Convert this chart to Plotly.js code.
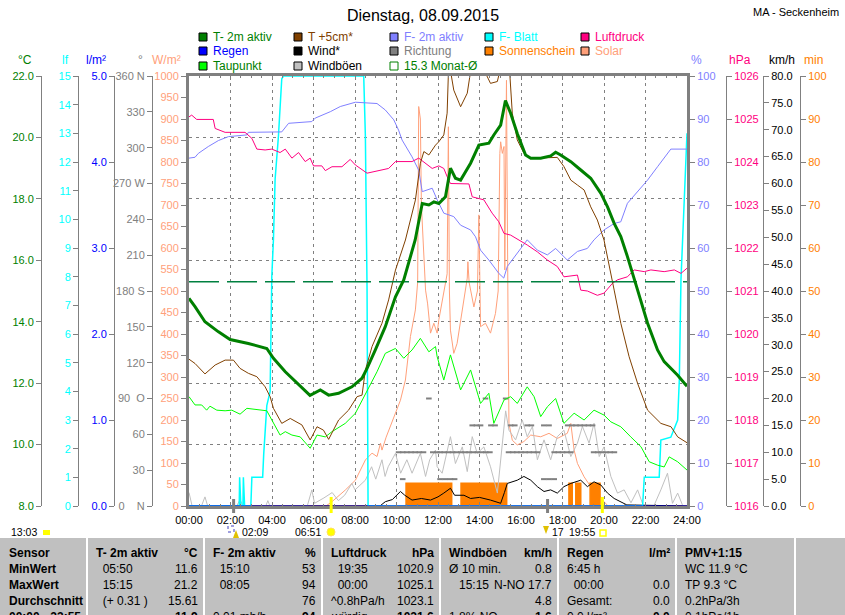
<!DOCTYPE html>
<html><head><meta charset="utf-8">
<script src="https://cdn.plot.ly/plotly-3.0.1.min.js"></script>
<style>html,body{margin:0;padding:0;background:#fff;}#chart{width:845px;height:615px;}</style>
</head><body><div id="chart"></div>
<script>
// ---------------- DATA ----------------
const chartTitle = 'Dienstag, 08.09.2015';
const station = 'MA - Seckenheim';
const hourTicks = [0,2,4,6,8,10,12,14,16,18,20,22,24];
const hourLabels = ['00:00','02:00','04:00','06:00','08:00','10:00','12:00','14:00','16:00','18:00','20:00','22:00','24:00'];
const dirTickVals = [0,30,60,90,120,150,180,210,240,270,300,330,360];
const dirTickText = ['0\u00a0\u00a0\u00a0\u00a0N','30','60','90\u00a0\u00a0O','120','150','180 S','210','240','270 W','300','330','360 N'];
const unitLabels = ['°C','lf','l/m²','°','W/m²','%','hPa','km/h','min'];

// T-2m aktiv (°C)
const t2mT = [0,0.29,0.77,1.42,1.98,2.86,3.75,4.07,4.64,5.28,5.83,6.33,6.73,7.21,7.85,8.34,8.58,8.98,9.46,9.95,10.35,10.9,11.24,11.56,11.8,12.04,12.36,12.6,12.84,13.09,13.57,13.97,14.45,14.69,15.02,15.25,15.5,15.82,16.22,16.47,16.95,17.43,17.67,17.91,18.4,18.88,19.36,19.85,20.17,20.49,20.81,21.13,21.45,21.62,22.1,22.58,22.9,23.55,24];
const t2m = [14.76,14.49,14.0,13.67,13.42,13.29,13.13,12.81,12.37,11.94,11.6,11.78,11.61,11.67,11.88,12.16,12.48,13.08,13.84,14.81,15.36,16.66,17.85,17.8,17.9,17.85,18.07,19.0,18.67,18.61,19.16,19.75,19.81,20.08,20.4,21.2,20.79,20.13,19.43,19.32,19.32,19.4,19.52,19.43,19.21,18.94,18.67,18.18,17.74,17.2,16.77,16.12,15.36,15.03,13.95,13.08,12.7,12.26,11.9];
// T +5cm (°C)
const t5T = [0,0.29,0.77,1.26,1.74,2.14,2.46,2.86,3.27,3.67,3.91,4.07,4.47,4.88,5.44,5.84,6.17,6.48,6.73,7.21,7.69,8.1,8.34,8.5,8.82,9.3,9.62,9.95,10.43,10.91,11.15,11.32,11.56,11.88,12.04,12.28,12.44,12.52,12.76,13.09,13.41,13.65,14.0,14.53,14.86,15.1,15.42,15.58,15.82,16.14,16.47,17.27,17.75,18.07,18.4,18.72,19.04,19.36,19.68,20.0,20.24,20.49,20.81,21.21,21.62,22.1,22.74,23.23,23.55,24];
const t5 = [12.78,12.64,12.3,12.59,12.75,12.75,12.48,12.32,12.21,11.88,11.56,11.18,10.69,10.85,10.64,10.15,10.58,10.47,10.17,10.8,11.12,11.56,11.61,12.43,13.19,13.95,14.71,15.68,16.66,17.96,19.16,19.54,19.43,19.75,19.86,20.08,20.79,22.5,21.54,21.0,21.44,22.5,22.5,21.76,21.82,22.5,22.5,20.79,19.92,19.48,19.32,19.35,19.35,19.05,18.61,18.45,18.29,17.74,17.31,16.66,15.9,15.03,13.95,12.86,11.99,11.12,10.69,10.58,10.25,10.06];
// Taupunkt (°C)
const tdT = [0,0.29,0.61,0.85,1.01,1.34,1.74,2.06,2.46,2.79,3.75,3.99,4.39,4.64,4.96,5.36,5.84,6.17,6.57,6.89,7.53,8.02,8.34,8.74,9.06,9.46,9.95,10.35,10.75,11.15,11.56,11.88,11.96,12.28,12.6,13.09,13.57,14.05,14.45,14.69,15.18,15.5,15.82,16.3,16.63,16.95,17.27,17.67,18.07,18.56,19.04,19.52,20.0,20.33,20.81,21.29,21.78,22.18,22.58,22.9,23.14,23.55,24];
const td = [11.56,11.29,11.29,11.12,11.25,11.12,11.1,11.12,10.99,11.18,11.1,10.8,10.31,10.42,10.31,10.25,9.88,10.31,10.25,10.42,10.69,11.02,11.45,11.99,12.37,12.97,13.13,12.81,13.08,13.46,13.02,13.19,12.86,12.1,12.92,11.78,12.43,11.34,11.67,10.69,11.45,11.56,11.34,11.88,11.56,10.91,11.23,11.5,10.69,11.02,10.8,11.12,10.96,10.74,10.58,10.25,9.93,9.44,9.33,9.27,9.6,9.44,9.17];
const monat = 15.3;
// F- 2m aktiv (%)
const f2T = [0,0.29,0.45,0.93,1.42,1.9,2.79,2.86,4.47,4.8,5.92,6.08,6.81,7.29,8.02,9.06,9.46,9.87,10.1,10.27,10.75,11.07,11.24,11.72,11.96,12.28,12.76,13.09,13.57,13.81,14.05,14.45,14.93,15.17,15.34,15.82,16.3,16.79,17.27,17.67,18.23,18.72,19.2,19.52,20.0,20.49,20.81,21.13,21.62,22.1,22.58,23.06,23.22,24];
const f2 = [80.9,81.1,82,83.6,85,85.9,86.3,86.9,87,89,89.4,90.2,91.7,92.9,93.9,93.6,92.1,89.8,87.4,85.1,81.2,78.1,73.1,73.9,71.2,68.1,67.3,65.3,64.2,62.6,59.5,57.2,54.1,53,55.7,58.8,61.9,59.5,58.4,59.9,57.2,59.2,59.9,61.9,64.2,65.7,66.1,70.4,73.1,75.8,78.9,82,83,83];
// Luftdruck (hPa)
const pT = [0,0.13,0.37,1.17,1.26,1.74,2.7,3.03,3.27,3.67,3.99,4.39,4.64,4.96,5.28,5.6,5.84,6.0,6.4,6.57,6.89,7.37,7.77,8.02,8.58,9.14,9.62,9.95,10.75,11.07,11.4,11.72,12.04,12.28,12.44,12.6,13.49,13.65,14.21,14.61,14.93,15.18,15.5,15.9,16.3,16.79,17.27,17.75,18.07,18.72,18.88,19.2,19.68,20.0,20.41,20.65,21.13,21.45,21.94,22.26,22.9,23.39,23.71,24];
const p = [1025.05,1025.09,1024.99,1024.99,1024.78,1024.69,1024.69,1024.55,1024.3,1024.28,1024.3,1024.22,1024.3,1024.09,1024.22,1024.01,1024.09,1023.91,1023.91,1023.8,1023.89,1023.89,1024.06,1023.93,1023.74,1023.8,1023.85,1024.01,1024.01,1024.09,1023.97,1023.85,1023.91,1023.85,1023.66,1023.5,1023.49,1023.19,1023.12,1022.81,1022.61,1022.34,1022.3,1022.19,1022.07,1021.91,1021.72,1021.57,1021.33,1021.37,1021.02,1021.0,1020.9,1020.95,1021.18,1021.26,1021.33,1021.49,1021.45,1021.49,1021.45,1021.49,1021.41,1021.53];
// F- Blatt (lf)
const lfT = [0,2.42,2.44,2.5,2.6,2.62,2.68,2.98,3.03,3.55,3.6,3.75,3.91,3.99,4.07,4.15,4.31,4.39,4.47,4.55,8.42,8.5,8.58,8.63,21.86,21.94,22.66,22.74,23.22,23.55,23.63,23.71,23.87,23.95,24];
const lf = [0,0,1,0,0,1,0,0,1,1,1.8,3.5,4,8,9.3,11.4,12.9,14,14.9,15,15,12.9,7.6,0,0,1,1,2.3,2.4,3,4.4,7.9,10.8,11.7,13];
// Regen (l/m²)
const rainT = [0,24];
const rain = [0,0];
// Solar (W/m²)
const solT = [0,6.6,6.89,7.53,8.02,8.5,8.82,9.06,9.23,9.3,9.5,9.95,10.19,10.43,10.67,10.91,11.02,11.07,11.15,11.2,11.27,11.4,11.5,11.64,11.8,11.96,12.04,12.28,12.44,12.5,12.55,12.6,12.76,12.92,13.09,13.25,13.41,13.44,13.5,13.73,13.9,13.97,14.02,14.05,14.29,14.53,14.77,14.9,14.98,15.02,15.1,15.18,15.22,15.3,15.38,15.42,15.58,15.82,16.14,16.47,16.95,17.35,17.75,18.23,18.4,18.56,18.72,19.04,19.36,19.68,20.0,20.2,24];
const sol = [0,0,10,37,60,107,123,115,146,130,160,216,246,293,394,456,520,929,900,700,619,502,470,402,425,402,433,502,540,882,500,409,355,378,433,487,530,568,520,463,500,677,480,417,425,402,448,500,820,847,820,836,549,990,400,192,153,142,150,165,161,169,157,169,192,130,99,68,45,30,10,0,0];
// Sonnenschein (min)
const sunStart = [10.46,13.11,18.31,18.64,19.33];
const sunEnd = [12.66,15.31,18.47,18.88,19.81];
const sunMin = [5.3,5.3,5.3,5.3,5.3];
// Windböen (km/h)
const gustT = [0,0.15,0.6,0.77,0.9,2.3,2.46,2.6,3.7,3.8,3.9,5.7,5.92,6.05,6.5,6.9,7.2,7.5,7.85,8.0,8.5,8.8,9.0,9.3,9.45,9.6,9.95,10.2,10.5,10.75,11.15,11.4,11.6,11.88,11.96,12.2,12.6,12.84,13.17,13.41,13.65,13.89,14.21,14.53,14.86,15.1,15.26,15.42,15.74,16.06,16.3,16.55,16.79,17.11,17.43,17.75,18.07,18.4,18.72,18.96,19.28,19.52,19.77,20.0,20.33,20.65,20.97,21.3,21.62,21.9,22.4,22.74,23.06,23.3,23.55,23.8,24];
const gust = [2.5,0,0,1.7,0,0,1.2,0,0,1,0,0,3,0.5,1.5,2.5,1.0,2.0,4.2,3,4.8,7.3,5,8.6,5.5,7.3,9.8,6.1,8.6,6.1,9.8,5.5,8.6,10.4,7.3,6.1,12.9,7.9,11,6.4,12.9,9.8,11,7.3,2.4,11,17.7,14.1,12.3,16,12.9,14.8,8.6,12.3,8.6,12.9,14.1,9.2,11.7,14.8,11.7,15.4,9.2,11,5.5,2.4,3,0.6,3,0,0,3,6.1,0.5,2.4,0,0];
// Wind* (km/h)
const windT = [0,9.2,9.46,9.8,10.19,10.4,10.75,11.2,11.64,12.0,12.28,12.6,12.8,13.25,13.57,14.0,14.53,15.02,15.2,15.34,15.82,16.14,16.47,16.79,17.11,17.43,17.75,18.07,18.4,18.88,19.2,19.52,19.85,20.17,20.49,20.81,21.1,24];
const wind = [0,0,0.8,1.2,2.7,2.0,1.1,1.4,1.1,1.7,2.4,3.3,2.0,2.0,1.4,1.6,1.1,0.5,2.5,4.2,4.8,5.5,4.8,3.6,2.7,3.0,2.4,3.6,4.2,4.8,3.6,4.5,3.9,2.4,1.4,0.8,0.2,0];
// Richtung (°)
const dirT = [10.1,10.3,10.5,10.7,10.9,11.1,11.3,11.75,11.95,12.1,12.3,12.5,12.7,12.9,13.1,13.3,13.5,13.7,13.9,14.1,14.3,14.5,15.4,15.6,15.8,16.0,16.2,16.4,16.6,16.8,17.6,17.8,18.0,18.2,18.4,19.5,19.7,19.9,20.1,20.3,20.5,
  13.65,13.85,14.05,14.55,14.75,15.5,15.7,16.3,16.5,17.1,17.35,18.25,18.45,18.65,18.85,19.05,19.25,19.45,
  10.3,12.1,12.35,12.6,12.8,17.1,17.35,17.6,
  11.56,14.29,15.26];
const dirDeg = [45,45,45,45,45,45,45,45,45,45,45,45,45,45,45,45,45,45,45,45,45,45,45,45,45,45,45,45,45,45,45,45,45,45,45,45,45,45,45,45,45,
  67.5,67.5,67.5,67.5,67.5,67.5,67.5,67.5,67.5,67.5,67.5,67.5,67.5,67.5,67.5,67.5,67.5,67.5,
  22.5,22.5,22.5,22.5,22.5,22.5,22.5,22.5,
  90,90,90];
// Sun / moon events
const sunEvents = [6.85, 19.92];
const moonEvents = [2.15, 17.28];
const astroText = ['13:03','02:09','06:51','17','19:55'];
// Table
const tabRowNames = ['Sensor','MinWert','MaxWert','Durchschnitt','00:00 - 23:55'];
const tabHeads = ['T- 2m aktiv','F- 2m aktiv','Luftdruck','Windböen','Regen','PMV+1:15'];
const tabUnits = ['°C','%','hPa','km/h','l/m²',''];
const tabMinL = ['\u00a0\u00a005:50','\u00a0\u00a015:10','\u00a0\u00a019:35','Ø 10 min.','6:45 h','WC 11.9 °C'];
const tabMinR = ['11.6','53','1020.9','0.8','',''];
const tabMaxL = ['\u00a0\u00a015:15','\u00a0\u00a008:05','\u00a0\u00a000:00','\u00a0\u00a0\u00a015:15','\u00a0\u00a000:00','TP 9.3 °C'];
const tabMaxR = ['21.2','94','1025.1','N-NO 17.7','0.0',''];
const tabAvgL = ['\u00a0\u00a0(+ 0.31 )','','^0.8hPa/h','','Gesamt:','0.2hPa/3h'];
const tabAvgR = ['15.61','76','1023.1','4.8','0.0',''];
const tabDayL = ['','0.01 mb/h','würdig','1.8% NO','0.0 l/m²','0.1hPa/1h'];
const tabDayR = ['11.9','94','1021.6','1.6','0.0',''];
// Legend
const legendLabels = [
  ['T- 2m aktiv','T +5cm*','F- 2m aktiv','F- Blatt','Luftdruck'],
  ['Regen','Wind*','Richtung','Sonnenschein','Solar'],
  ['Taupunkt','Windböen', monat.toFixed(1) + ' Monat-Ø']
];

// ---------------- STYLE ----------------
const W = 845, H = 615;
const px = v => v / W;
const py = v => 1 - v / H;
const FONT = 'Liberation Sans, Arial, sans-serif';
const C = {t2m:'#008000', t5:'#804000', td:'#00FF00', f2:'#8080FF', lf:'#00FFFF', p:'#FF0080',
  rain:'#0000FF', wind:'#000000', dir:'#808080', sun:'#FF8000', sol:'#FFA07A', gust:'#C0C0C0', monat:'#008040'};
const legendFill = [[C.t2m,C.t5,C.f2,C.lf,C.p],[C.rain,C.wind,C.dir,C.sun,C.sol],[C.td,C.gust,'#FFFFFF']];
const legendBorder = [['#000','#000','#000','#000','#000'],['#000','#000','#000','#000','#000'],['#000','#000',C.t2m]];
const legendText = [[C.t2m,C.t5,C.f2,C.lf,C.p],[C.rain,'#000',C.dir,C.sun,C.sol],[C.t2m,'#000',C.t2m]];
const legendColX = [199, 294, 390, 485, 581];
const legendRowY = [37, 51, 66];
const unitX = [25, 65, 96, 140, 166, 696, 740, 782, 813];
const unitColor = [C.t2m, C.lf, C.rain, C.dir, C.sol, C.f2, C.p, '#000', C.sun];

// sunshine as step polygon from intervals
const sunX = [0], sunY = [0];
sunStart.forEach((s, i) => { sunX.push(s, s, sunEnd[i], sunEnd[i]); sunY.push(0, sunMin[i], sunMin[i], 0); });
sunX.push(hourTicks[hourTicks.length - 1]); sunY.push(0);

const L = (c, w) => ({color: c, width: w});
const traces = [
  {x: solT, y: sol, yaxis: 'y', mode: 'lines', line: L(C.sol, 1)},
  {x: sunX, y: sunY, yaxis: 'y2', mode: 'lines', fill: 'tozeroy', fillcolor: C.sun, line: L(C.sun, 1.5)},
  {x: gustT, y: gust, yaxis: 'y3', mode: 'lines', line: L(C.gust, 1)},
  {x: windT, y: wind, yaxis: 'y3', mode: 'lines', line: L(C.wind, 1)},
  {x: dirT, y: dirDeg, yaxis: 'y4', mode: 'markers', marker: {symbol: 'line-ew', size: 4, color: C.dir, line: {color: C.dir, width: 2}}},
  {x: lfT, y: lf, yaxis: 'y5', mode: 'lines', line: L(C.lf, 1.5)},
  {x: rainT, y: rain, yaxis: 'y6', mode: 'lines', line: L(C.rain, 1)},
  {x: f2T, y: f2, yaxis: 'y7', mode: 'lines', line: L(C.f2, 1)},
  {x: pT, y: p, yaxis: 'y8', mode: 'lines', line: L(C.p, 1)},
  {x: tdT, y: td, yaxis: 'y9', mode: 'lines', line: L(C.td, 1)},
  {x: t5T, y: t5, yaxis: 'y9', mode: 'lines', line: L(C.t5, 1)},
  {x: [hourTicks[0], hourTicks[hourTicks.length - 1]], y: [monat, monat], yaxis: 'y9', mode: 'lines', line: {color: C.monat, width: 1.5, dash: '30px,8px'}},
  {x: t2mT, y: t2m, yaxis: 'y9', mode: 'lines', line: L(C.t2m, 3)}
];
traces.forEach(t => { t.type = 'scatter'; t.xaxis = 'x'; t.hoverinfo = 'skip'; });

function ax(color, extra) {
  return Object.assign({
    showgrid: false, zeroline: false, showline: true, linecolor: '#808080', linewidth: 1,
    ticks: 'outside', ticklen: 5, tickcolor: '#808080', tickwidth: 1,
    tickfont: {color: color, size: 11, family: FONT}, fixedrange: true
  }, extra);
}

const ann = [];
function T(x, y, text, o) {
  o = o || {};
  ann.push({xref: 'paper', yref: 'paper', x: px(x), y: py(y), text: text, showarrow: false,
    xanchor: o.anchor || 'left', yanchor: 'middle', borderpad: 0,
    font: {family: FONT, size: o.size || 12, color: o.color || '#000'}});
}
const shapes = [];

// legend
legendLabels.forEach((row, r) => row.forEach((lab, c) => {
  const x0 = legendColX[c], yc = legendRowY[r];
  shapes.push({type: 'rect', xref: 'paper', yref: 'paper', x0: px(x0), x1: px(x0 + 8), y0: py(yc + 4), y1: py(yc - 4),
    fillcolor: legendFill[r][c], line: {color: legendBorder[r][c], width: 1}});
  T(x0 + 13, yc, lab, {color: legendText[r][c]});
}));
// unit labels
unitLabels.forEach((u, i) => T(unitX[i], 60, u, {anchor: 'center', color: unitColor[i]}));
// station
T(840, 12, station, {anchor: 'right', size: 11});

// sun / moon markers on axis
sunEvents.forEach(t => shapes.push({type: 'line', xref: 'x', yref: 'paper', x0: t, x1: t, y0: py(513), y1: py(497), line: {color: '#FFFF00', width: 3}}));
moonEvents.forEach(t => shapes.push({type: 'line', xref: 'x', yref: 'paper', x0: t, x1: t, y0: py(513), y1: py(499), line: {color: '#808080', width: 3}}));
// small icons drawn as shapes
shapes.push({type: 'rect', xref: 'paper', yref: 'paper', x0: px(43), x1: px(50), y0: py(535), y1: py(530), fillcolor: '#FFFF00', line: {width: 0}});
shapes.push({type: 'rect', xref: 'paper', yref: 'paper', x0: px(228), x1: px(234), y0: py(532), y1: py(526), fillcolor: 'rgba(0,0,0,0)', line: {color: '#4040C0', width: 1, dash: 'dot'}});
shapes.push({type: 'path', xref: 'paper', yref: 'paper', path: 'M' + px(233) + ',' + py(538) + ' L' + px(236) + ',' + py(530) + ' L' + px(239) + ',' + py(538) + ' Z', fillcolor: '#E0C000', line: {width: 0}});
shapes.push({type: 'circle', xref: 'paper', yref: 'paper', x0: px(327), x1: px(335), y0: py(536), y1: py(528), fillcolor: '#FFFF00', line: {color: '#FFE060', width: 1}});
shapes.push({type: 'path', xref: 'paper', yref: 'paper', path: 'M' + px(543) + ',' + py(526) + ' L' + px(546) + ',' + py(534) + ' L' + px(549) + ',' + py(526) + ' Z', fillcolor: '#E0C000', line: {width: 0}});
shapes.push({type: 'rect', xref: 'paper', yref: 'paper', x0: px(600), x1: px(606), y0: py(536), y1: py(530), fillcolor: 'rgba(0,0,0,0)', line: {color: '#FFFF00', width: 1.5}});
T(10, 532, astroText[0], {size: 10.5});
T(241, 532, astroText[1], {size: 10.5});
T(322, 532, astroText[2], {anchor: 'right', size: 10.5});
T(551, 532, astroText[3], {size: 10.5});
T(596, 532, astroText[4], {anchor: 'right', size: 10.5});

// table
shapes.push({type: 'rect', xref: 'paper', yref: 'paper', x0: 0, x1: 1, y0: 0, y1: py(538), fillcolor: '#C0C0C0', line: {width: 0}, layer: 'below'});
const colX = [87, 204, 322, 440, 558, 676, 795];
colX.forEach(x => shapes.push({type: 'line', xref: 'paper', yref: 'paper', x0: px(x), x1: px(x), y0: 0, y1: py(538), line: {color: '#FFFFFF', width: 2}}));
const rowY = [553, 569, 585, 601, 617];
tabRowNames.forEach((n, i) => T(8, rowY[i], '<b>' + n + '</b>'));
const leftRows = [tabMinL, tabMaxL, tabAvgL, tabDayL];
const rightRows = [tabMinR, tabMaxR, tabAvgR, tabDayR];
tabHeads.forEach((h, c) => {
  const x0 = colX[c], x1 = colX[c + 1];
  T(x0 + 8, rowY[0], '<b>' + h + '</b>');
  if (tabUnits[c]) T(x1 - 5, rowY[0], '<b>' + tabUnits[c] + '</b>', {anchor: 'right'});
  leftRows.forEach((r, i) => { if (r[c]) T(x0 + 8, rowY[i + 1], r[c]); });
  rightRows.forEach((r, i) => { if (r[c]) T(x1 - 5, rowY[i + 1], i === 3 ? '<b>' + r[c] + '</b>' : r[c], {anchor: 'right'}); });
});

const layout = {
  width: W, height: H, margin: {l: 0, r: 0, t: 0, b: 0, pad: 0},
  paper_bgcolor: '#FFFFFF', plot_bgcolor: '#FFFFFF', showlegend: false,
  font: {family: FONT, size: 12, color: '#000'},
  title: {text: chartTitle, xref: 'container', yref: 'container', x: 423 / W, y: py(15), xanchor: 'center', yanchor: 'middle',
    font: {family: FONT, size: 16, color: '#000'}},
  xaxis: {domain: [px(189), px(687)], range: [0, 24], anchor: 'y', tickvals: hourTicks, ticktext: hourLabels,
    showgrid: true, gridcolor: '#808080', gridwidth: 1, griddash: '3px,4px', zeroline: false,
    showline: true, linecolor: '#808080', linewidth: 3, mirror: 'ticks',
    ticks: 'inside', ticklen: 4, tickcolor: '#808080', ticklabelstandoff: 2,
    minor: {dtick: 0.5, ticks: 'inside', ticklen: 2, tickcolor: '#808080', showgrid: false},
    tickfont: {family: FONT, size: 11, color: '#000'}, fixedrange: true},
  yaxis: ax(C.sol, {domain: [py(506), py(76)], range: [0, 1000], dtick: 50, anchor: 'x', side: 'left', linewidth: 3}),
  yaxis2: ax(C.sun, {overlaying: 'y', anchor: 'free', position: px(800), side: 'right', range: [0, 100], dtick: 10}),
  yaxis3: ax('#000', {overlaying: 'y', anchor: 'free', position: px(763), side: 'right', range: [0, 80], dtick: 5, tickformat: '.1f'}),
  yaxis4: ax(C.dir, {overlaying: 'y', anchor: 'free', position: px(152), side: 'left', range: [0, 360], tickvals: dirTickVals, ticktext: dirTickText}),
  yaxis5: ax(C.lf, {overlaying: 'y', anchor: 'free', position: px(78), side: 'left', range: [0, 15], dtick: 1}),
  yaxis6: ax(C.rain, {overlaying: 'y', anchor: 'free', position: px(114), side: 'left', range: [0, 5], dtick: 1, tickformat: '.1f'}),
  yaxis7: ax(C.f2, {overlaying: 'y', anchor: 'x', side: 'right', range: [0, 100], dtick: 10, linewidth: 3}),
  yaxis8: ax(C.p, {overlaying: 'y', anchor: 'free', position: px(726), side: 'right', range: [1016, 1026], dtick: 1}),
  yaxis9: ax(C.t2m, {overlaying: 'y', anchor: 'free', position: px(41), side: 'left', range: [8, 22], dtick: 2, tickformat: '.1f',
    showgrid: true, gridcolor: '#808080', gridwidth: 1, griddash: '3px,4px'}),
  shapes: shapes, annotations: ann
};

Plotly.newPlot('chart', traces, layout, {staticPlot: true, displayModeBar: false});
</script>
</body></html>
